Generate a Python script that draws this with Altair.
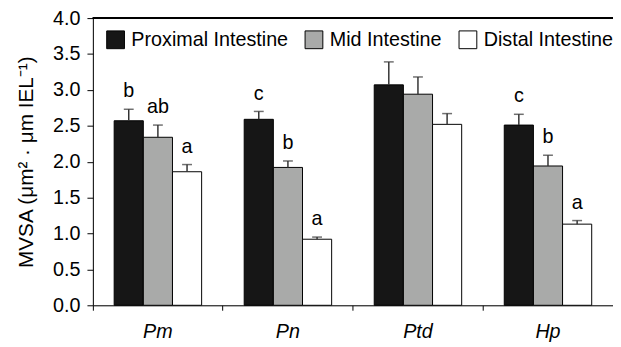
import altair as alt
import pandas as pd

categories = ["Pm", "Pn", "Ptd", "Hp"]
segments = ["Proximal Intestine", "Mid Intestine", "Distal Intestine"]
colors = ["#161616", "#a9aaa9", "#ffffff"]
means = [[2.57, 2.34, 1.86], [2.59, 1.92, 0.92], [3.07, 2.94, 2.52], [2.51, 1.94, 1.13]]
errors = [[0.16, 0.17, 0.10], [0.11, 0.09, 0.03], [0.32, 0.24, 0.15], [0.15, 0.15, 0.05]]
letters = [["b", "ab", "a"], ["c", "b", "a"], ["", "", ""], ["c", "b", "a"]]
yticks = [0, 0.5, 1, 1.5, 2, 2.5, 3, 3.5, 4]

rows = []
for i, c in enumerate(categories):
    for j, s in enumerate(segments):
        rows.append({"cat": c, "seg": s, "order": j, "mean": means[i][j],
                     "top": means[i][j] + errors[i][j], "letter": letters[i][j]})
df = pd.DataFrame(rows)

FONT = "Liberation Sans"
YTITLE = "MVSA (μm² · μm IEL⁻¹)"

xaxis = alt.Axis(bandPosition=0, labelAngle=0, labelFontStyle="italic",
                 labelFontSize=20, labelFont=FONT, labelColor="black",
                 labelPadding=12, tickSize=5, tickColor="black",
                 domainColor="black", labelBound=False, labelFlush=False)
yaxis = alt.Axis(values=yticks, format=".1f", labelOverlap=False,
                 grid=False, tickSize=6, tickColor="black", domainColor="black",
                 labelFontSize=20, labelFont=FONT, labelColor="black",
                 titleFontSize=21, titleFont=FONT, titleFontWeight="normal",
                 titleColor="black", titlePadding=16, labelPadding=7)
xscale = alt.Scale(paddingInner=0, paddingOuter=0)
yscale = alt.Scale(domain=[0, 4], nice=False)


def xenc():
    return alt.X("cat:N", sort=categories, title=None, scale=xscale, axis=xaxis)


def yenc(field):
    return alt.Y(field, scale=yscale, title=YTITLE, axis=yaxis)


xoff = alt.XOffset("seg:N", sort=segments,
                   scale=alt.Scale(paddingInner=0, paddingOuter=0.73))

bars = alt.Chart(df).mark_bar(stroke="black", strokeWidth=1).encode(
    x=xenc(),
    xOffset=xoff,
    y=yenc("mean:Q"),
    fill=alt.Fill("seg:N", sort=segments,
                  scale=alt.Scale(domain=segments, range=colors),
                  legend=alt.Legend(title=None, orient="none", legendX=13, legendY=12,
                                    direction="horizontal", symbolType="square",
                                    symbolSize=324, symbolStrokeColor="black",
                                    symbolStrokeWidth=1, labelFontSize=20,
                                    labelFont=FONT, labelColor="black",
                                    labelOffset=6, columnPadding=15,
                                    labelLimit=300)),
)

err = alt.Chart(df).mark_rule(color="#333333", strokeWidth=1.5).encode(
    x=xenc(), xOffset=xoff, y=yenc("mean:Q"), y2="top:Q")

caps = alt.Chart(df).mark_tick(color="#333333", thickness=1.5, size=10).encode(
    x=xenc(), xOffset=xoff, y=yenc("top:Q"))

text = alt.Chart(df).mark_text(fontSize=20, font=FONT, color="black",
                               baseline="alphabetic", dy=-12).encode(
    x=xenc(), xOffset=xoff, y=yenc("top:Q"), text="letter:N")

toprule = alt.Chart(df).mark_rule(color="black", strokeWidth=1).encode(
    y=alt.YDatum(4, scale=yscale, axis=yaxis, title=YTITLE))

chart = alt.layer(bars, err, caps, text, toprule).properties(
    width=527, height=291,
    autosize=alt.AutoSizeParams(type="none"),
    padding={"left": 86, "top": 8, "right": 0, "bottom": 37},
).configure_view(stroke=None).configure(background="white")

chart.save("out.html", embed_options={"renderer": "svg", "actions": False})
